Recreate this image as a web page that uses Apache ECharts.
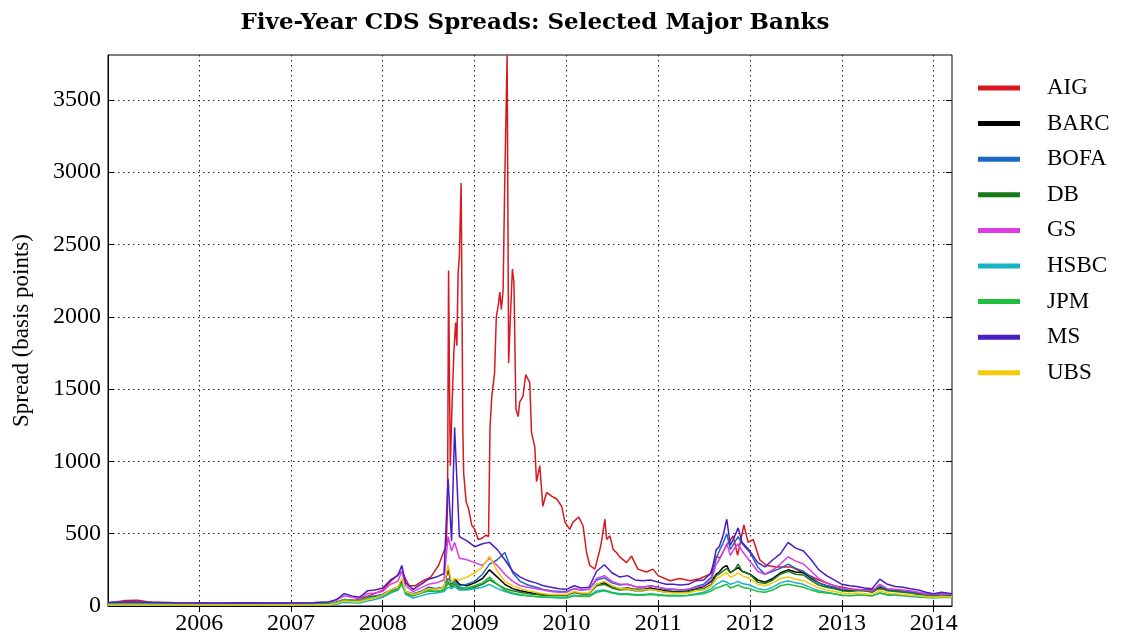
<!DOCTYPE html>
<html>
<head>
<meta charset="utf-8">
<title>Five-Year CDS Spreads</title>
<script src="https://cdn.jsdelivr.net/npm/echarts@6/dist/echarts.min.js"></script>
<style>
  html, body { margin: 0; padding: 0; background: #fff; }
  #chart { width: 1123px; height: 636px; }
</style>
</head>
<body>
<div id="chart"></div>
<script>
// common date grid for the eight banks (denser around the crises)
var dates = [
  '2005-01-03', '2005-04-01', '2005-07-01', '2005-10-01', '2006-01-01', '2006-04-01', '2006-07-01', '2006-10-01', '2007-01-01', '2007-04-01',
  '2007-06-01', '2007-07-01', '2007-08-01', '2007-09-01', '2007-10-01', '2007-11-01', '2007-12-01', '2008-01-01', '2008-02-01', '2008-03-01',
  '2008-03-17', '2008-04-01', '2008-05-01', '2008-06-01', '2008-07-01', '2008-08-01', '2008-09-01', '2008-09-17', '2008-10-01', '2008-10-13',
  '2008-11-01', '2008-12-01', '2009-01-01', '2009-02-01', '2009-03-01', '2009-04-01', '2009-05-01', '2009-06-01', '2009-07-01', '2009-08-01',
  '2009-09-01', '2009-10-01', '2009-11-01', '2009-12-01', '2010-01-01', '2010-02-01', '2010-03-01', '2010-04-01', '2010-05-01', '2010-06-01',
  '2010-07-01', '2010-08-01', '2010-09-01', '2010-10-01', '2010-11-01', '2010-12-01', '2011-01-01', '2011-02-01', '2011-03-01', '2011-04-01',
  '2011-05-01', '2011-06-01', '2011-07-01', '2011-08-01', '2011-08-20', '2011-09-01', '2011-09-15', '2011-10-01', '2011-10-15', '2011-11-01',
  '2011-11-15', '2011-12-01', '2012-01-01', '2012-02-01', '2012-03-01', '2012-04-01', '2012-05-01', '2012-06-01', '2012-07-01', '2012-08-01',
  '2012-09-01', '2012-10-01', '2012-11-01', '2012-12-01', '2013-01-01', '2013-02-01', '2013-03-01', '2013-04-01', '2013-05-01', '2013-06-01',
  '2013-07-01', '2013-08-01', '2013-09-01', '2013-10-01', '2013-11-01', '2013-12-01', '2014-01-01', '2014-02-01', '2014-03-15'
]

var barc = [
  8, 8, 8, 8, 8, 8, 8, 8, 8, 8,
  10, 20, 40, 35, 35, 55, 65, 80, 110, 130,
  170, 95, 80, 100, 120, 120, 130, 255, 150, 190,
  150, 140, 160, 190, 250, 200, 150, 120, 105, 95,
  85, 80, 75, 75, 75, 95, 85, 85, 150, 160,
  135, 120, 125, 115, 115, 125, 115, 105, 100, 100,
  105, 120, 135, 170, 220, 235, 265, 280, 230, 250,
  265, 240, 220, 180, 165, 190, 230, 250, 235, 230,
  190, 160, 140, 125, 110, 105, 110, 110, 100, 130,
  110, 105, 100, 95, 85, 80, 75, 80, 75
]
var bofa = [
  12, 12, 12, 11, 10, 10, 10, 10, 10, 11,
  14, 25, 40, 35, 35, 60, 70, 80, 105, 120,
  160, 100, 85, 100, 130, 120, 130, 190, 160, 170,
  140, 150, 170, 220, 290, 320, 370, 230, 170, 145,
  130, 115, 105, 100, 100, 120, 110, 115, 180, 195,
  160, 145, 150, 135, 130, 140, 130, 115, 115, 110,
  115, 135, 150, 200, 330, 380, 430, 500, 390, 440,
  480, 430, 370, 270, 220, 240, 260, 290, 260, 240,
  200, 160, 140, 130, 115, 110, 110, 105, 100, 140,
  115, 105, 100, 95, 85, 80, 75, 80, 75
]
var db = [
  12, 12, 12, 11, 10, 10, 10, 10, 10, 11,
  13, 22, 40, 35, 32, 50, 55, 70, 95, 110,
  160, 90, 70, 90, 105, 100, 110, 160, 130, 150,
  120, 115, 130, 150, 180, 150, 120, 105, 95, 85,
  80, 75, 75, 75, 75, 95, 85, 85, 140, 150,
  125, 110, 115, 105, 105, 115, 105, 95, 95, 95,
  100, 115, 120, 150, 210, 220, 240, 260, 230, 250,
  290, 240, 220, 165, 155, 180, 220, 240, 220, 215,
  175, 145, 130, 120, 105, 100, 105, 105, 95, 125,
  105, 100, 95, 90, 80, 75, 70, 75, 72
]
var gs = [
  25, 28, 25, 22, 20, 20, 22, 22, 22, 24,
  28, 40, 70, 60, 50, 85, 90, 100, 150, 170,
  240, 140, 100, 125, 150, 160, 180, 480, 380, 440,
  330, 320, 300, 280, 330, 280, 220, 170, 140, 130,
  120, 110, 100, 95, 95, 120, 110, 115, 190, 210,
  170, 150, 150, 135, 130, 140, 130, 120, 115, 110,
  115, 130, 140, 180, 290, 320, 370, 430, 350, 400,
  430, 380, 310, 240, 220, 250, 290, 340, 310, 290,
  240, 190, 160, 140, 125, 115, 115, 110, 105, 150,
  120, 115, 110, 105, 95, 85, 80, 85, 80
]
var hsbc = [
  6, 6, 6, 6, 6, 6, 6, 6, 6, 6,
  7, 12, 25, 22, 20, 35, 45, 60, 90, 110,
  150, 80, 55, 70, 85, 90, 100, 130, 120, 135,
  110, 110, 120, 130, 150, 120, 100, 85, 75, 70,
  65, 62, 62, 62, 62, 75, 70, 70, 105, 110,
  95, 85, 85, 80, 80, 85, 80, 75, 75, 72,
  75, 85, 95, 120, 150, 160, 175, 165, 150, 160,
  170, 155, 145, 120, 110, 130, 160, 175, 160, 150,
  125, 105, 95, 85, 75, 70, 75, 75, 70, 90,
  75, 75, 70, 65, 62, 58, 55, 60, 58
]
var jpm = [
  15, 15, 14, 13, 12, 12, 12, 12, 12, 13,
  15, 25, 45, 40, 38, 55, 60, 75, 95, 115,
  155, 95, 75, 90, 105, 100, 110, 170, 140, 160,
  130, 125, 140, 160, 200, 150, 110, 90, 80, 70,
  65, 60, 58, 55, 55, 70, 65, 65, 95, 105,
  90, 80, 80, 75, 75, 80, 75, 70, 70, 70,
  72, 80, 85, 105, 125, 130, 140, 150, 125, 135,
  145, 130, 120, 100, 95, 110, 140, 150, 140, 130,
  110, 95, 90, 85, 75, 72, 75, 75, 70, 90,
  80, 78, 75, 70, 65, 60, 60, 65, 62
]
var ms = [
  25, 30, 25, 22, 20, 20, 22, 20, 20, 22,
  28, 45, 85, 70, 60, 105, 110, 125, 180, 210,
  280, 160, 115, 150, 185, 200, 225, 880, 450, 1235,
  480, 450, 410, 430, 440, 390, 320, 240, 200, 175,
  160, 140, 130, 120, 115, 140, 125, 130, 240, 285,
  230, 200, 210, 180, 175, 180, 165, 150, 150, 145,
  150, 175, 180, 230, 390, 410, 480, 600, 420, 480,
  540, 440, 380, 300, 270, 320, 360, 440, 400, 380,
  320, 250, 210, 180, 150, 140, 135, 125, 120, 185,
  150, 135, 130, 120, 110, 95, 85, 95, 85
]
var ubs = [
  7, 7, 7, 7, 7, 7, 7, 7, 7, 8,
  9, 18, 35, 30, 30, 45, 55, 75, 110, 130,
  190, 100, 80, 95, 120, 115, 130, 285, 160, 190,
  180, 200, 230, 270, 345, 240, 170, 140, 120, 105,
  95, 85, 80, 80, 80, 100, 90, 90, 150, 170,
  140, 120, 120, 110, 110, 115, 105, 95, 90, 90,
  90, 105, 110, 140, 190, 200, 215, 230, 200, 210,
  230, 210, 190, 150, 140, 160, 190, 200, 185, 175,
  150, 125, 110, 100, 90, 85, 90, 85, 80, 105,
  90, 85, 80, 75, 70, 65, 60, 65, 62
]

// AIG has its own, finer dates
var aigDates = [
  '2005-01-03', '2005-03-15', '2005-05-01', '2005-06-15', '2005-10-01', '2006-04-01', '2006-10-01', '2007-04-01', '2007-06-15', '2007-08-01',
  '2007-09-15', '2007-11-15', '2008-01-01', '2008-02-01', '2008-03-17', '2008-04-15', '2008-05-10', '2008-06-10', '2008-07-10', '2008-08-10',
  '2008-09-01', '2008-09-10', '2008-09-15', '2008-09-19', '2008-09-23', '2008-09-26', '2008-10-03', '2008-10-10', '2008-10-17', '2008-10-22',
  '2008-10-27', '2008-11-01', '2008-11-08', '2008-11-12', '2008-11-15', '2008-11-18', '2008-11-28', '2008-12-08', '2008-12-20', '2009-01-01',
  '2009-01-15', '2009-02-01', '2009-02-15', '2009-02-25', '2009-03-03', '2009-03-10', '2009-03-21', '2009-03-28', '2009-04-04', '2009-04-11',
  '2009-04-17', '2009-04-24', '2009-04-30', '2009-05-10', '2009-05-16', '2009-05-23', '2009-05-31', '2009-06-06', '2009-06-14', '2009-06-23',
  '2009-06-29', '2009-07-12', '2009-07-23', '2009-08-08', '2009-08-15', '2009-08-28', '2009-09-04', '2009-09-17', '2009-09-29', '2009-10-14',
  '2009-11-03', '2009-11-23', '2009-12-13', '2009-12-26', '2010-01-14', '2010-01-27', '2010-02-19', '2010-03-08', '2010-03-22', '2010-04-04',
  '2010-04-24', '2010-05-14', '2010-05-20', '2010-06-03', '2010-06-10', '2010-06-23', '2010-07-06', '2010-07-19', '2010-08-01', '2010-08-28',
  '2010-09-17', '2010-10-12', '2010-11-16', '2010-12-11', '2011-01-01', '2011-02-17', '2011-03-28', '2011-05-08', '2011-06-17', '2011-07-26',
  '2011-08-22', '2011-09-03', '2011-09-30', '2011-10-26', '2011-11-13', '2011-12-08', '2011-12-25', '2012-01-14', '2012-02-09', '2012-03-07',
  '2012-04-15', '2012-06-15', '2012-08-01', '2012-10-01', '2012-12-01', '2013-03-01', '2013-06-15', '2013-09-01', '2013-12-01', '2014-03-15'
]
var aig = [
  20, 38, 40, 28, 22, 18, 15, 14, 18, 45,
  40, 75, 110, 170, 240, 140, 140, 175, 200, 280,
  380, 420, 700, 2320, 1500, 970, 1400, 1750, 1960, 1800,
  2300, 2420, 2925, 2930, 1200, 920, 720, 670, 560, 530,
  460, 470, 490, 480, 1240, 1450, 1610, 2000, 2070, 2170,
  2050, 2180, 2880, 3810, 1680, 2000, 2330, 2240, 1360, 1310,
  1410, 1450, 1600, 1545, 1200, 1100, 860, 970, 690, 785,
  760, 740, 690, 580, 530, 580, 615, 555, 370, 280,
  255, 390, 440, 600, 460, 485, 390, 370, 340, 300,
  345, 255, 235, 255, 210, 175, 190, 175, 190, 220,
  345, 330, 420, 485, 350, 560, 440, 460, 320, 280,
  270, 270, 230, 180, 140, 110, 120, 100, 85, 75
]

var yTicks = [0, 500, 1000, 1500, 2000, 2500, 3000, 3500]
var yearTicks = [2006, 2007, 2008, 2009, 2010, 2011, 2012, 2013, 2014]
var xStart = '2005-01-03'
var xEnd = '2014-03-15'

function toTs(s) {
  var p = s.split('-')
  return new Date(+p[0], +p[1] - 1, +p[2]).getTime()
}

var banks = [
  { name: 'AIG', color: '#d7191f', x: aigDates, y: aig },
  { name: 'BARC', color: '#000000', x: dates, y: barc },
  { name: 'BOFA', color: '#1d68c4', x: dates, y: bofa },
  { name: 'DB', color: '#177a17', x: dates, y: db },
  { name: 'GS', color: '#dc3be6', x: dates, y: gs },
  { name: 'HSBC', color: '#17b3c4', x: dates, y: hsbc },
  { name: 'JPM', color: '#1fbe3d', x: dates, y: jpm },
  { name: 'MS', color: '#4a1cc4', x: dates, y: ms },
  { name: 'UBS', color: '#f6c80c', x: dates, y: ubs },
]

var serif = 'Liberation Serif'
var yearTs = yearTicks.map(function (y) { return new Date(y, 0, 1).getTime() })
var dotted = { color: '#222', type: [1.5, 3.5], width: 1 }

var chart = echarts.init(document.getElementById('chart'), null, { renderer: 'canvas' })

var option = {
  animation: false,
  backgroundColor: '#fff',
  title: {
    text: 'Five-Year CDS Spreads: Selected Major Banks',
    left: 530,
    top: 7,
    textAlign: 'center',
    textStyle: { fontFamily: 'DejaVu Serif', fontWeight: 'bold', fontSize: 23, color: '#000' },
  },
  legend: {
    orient: 'vertical',
    left: 973,
    top: 71,
    icon: 'rect',
    itemWidth: 42,
    itemHeight: 5,
    itemGap: 11.6,
    textStyle: { fontFamily: serif, fontSize: 23, color: '#000', lineHeight: 24, padding: [0, 0, 0, 22] },
    data: banks.map(function (b) { return b.name }),
  },
  grid: { left: 108, right: 171, top: 55, bottom: 29, show: true, borderColor: '#000', borderWidth: 1 },
  xAxis: [
    {
      type: 'value',
      min: toTs(xStart),
      max: toTs(xEnd),
      axisLine: { show: true, lineStyle: { color: '#000', width: 1 } },
      axisTick: { show: true, inside: true, length: 6, customValues: yearTs, lineStyle: { color: '#000' } },
      axisLabel: {
        customValues: yearTs,
        margin: 6,
        fontFamily: serif,
        fontSize: 24,
        color: '#000',
        formatter: function (v) { return String(new Date(v).getFullYear()) },
      },
      splitLine: { show: true, lineStyle: dotted },
    },
    {
      type: 'value',
      position: 'top',
      min: toTs(xStart),
      max: toTs(xEnd),
      axisLine: { show: false },
      axisTick: { show: true, inside: true, length: 6, customValues: yearTs, lineStyle: { color: '#000' } },
      axisLabel: { show: false },
      splitLine: { show: false },
    },
  ],
  yAxis: [
    {
      type: 'value',
      min: 0,
      max: 3810,
      name: 'Spread (basis points)',
      nameLocation: 'middle',
      nameGap: 75,
      nameTextStyle: { fontFamily: serif, fontSize: 23, color: '#000' },
      axisLine: { show: true, lineStyle: { color: '#000', width: 1 } },
      axisTick: { show: true, inside: true, length: 6, customValues: yTicks, lineStyle: { color: '#000' } },
      axisLabel: {
        customValues: yTicks,
        margin: 7,
        fontFamily: serif,
        fontSize: 24,
        color: '#000',
        formatter: function (v) { return String(v) },
      },
      splitLine: { show: true, lineStyle: dotted },
    },
    {
      type: 'value',
      position: 'right',
      min: 0,
      max: 3810,
      axisLine: { show: false },
      axisTick: { show: true, inside: true, length: 6, customValues: yTicks, lineStyle: { color: '#000' } },
      axisLabel: { show: false },
      splitLine: { show: false },
    },
  ],
  series: banks.map(function (b) {
    return {
      name: b.name,
      type: 'line',
      xAxisIndex: 0,
      yAxisIndex: 0,
      symbol: 'none',
      showSymbol: false,
      color: b.color,
      lineStyle: { color: b.color, width: 1.5 },
      data: b.x.map(function (d, i) { return [toTs(d), b.y[i]] }),
    }
  }),
}

chart.setOption(option)
</script>
</body>
</html>
